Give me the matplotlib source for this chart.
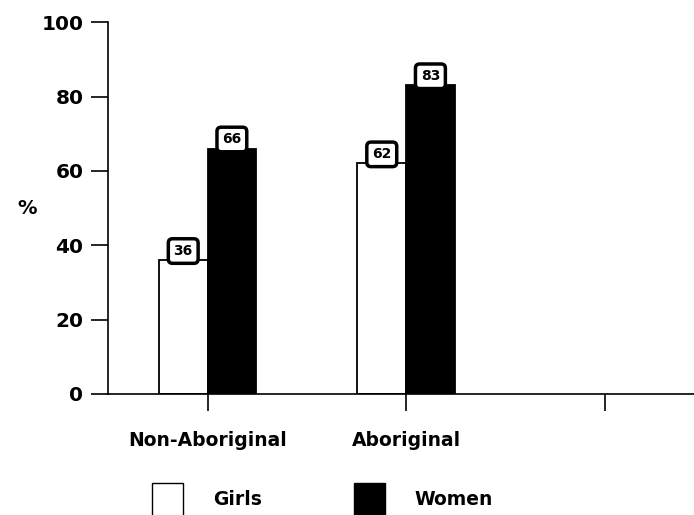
import matplotlib.pyplot as plt
import numpy as np
from matplotlib.patches import Patch

plt.rcParams['font.family'] = ['DejaVu Sans']
plt.rcParams['font.weight'] = 'bold'

groups = ['Non-Aboriginal', 'Aboriginal', '']
girls = [36, 62]
women = [66, 83]

fig = plt.figure(figsize=(6.94, 5.15), dpi=100)
ax = fig.add_axes([0.156, 0.235, 0.844, 0.722])

x = np.arange(len(girls))
w = 0.245
b1 = ax.bar(x - w / 2, girls, w, color='white', edgecolor='black', linewidth=1.3)
b2 = ax.bar(x + w / 2, women, w, color='black', edgecolor='black', linewidth=1.3)

# value tags sitting on top of each bar
for bars in (b1, b2):
    for r in bars:
        v = r.get_height()
        ax.annotate(f'{v:.0f}', (r.get_x() + r.get_width() / 2, v),
                    xytext=(0, 1.5), textcoords='offset points',
                    ha='center', va='bottom', fontsize=10, fontweight='bold',
                    bbox=dict(boxstyle='round,pad=0.38,rounding_size=0.3',
                              fc='white', ec='black', lw=2.5))

ax.set_xlim(-0.5, 2.45)
ax.set_ylim(0, 100)
ax.set_xticks(np.arange(len(groups)))
ax.set_xticklabels(groups, fontsize=13.5, fontweight='bold')
ax.set_yticks(np.arange(0, 101, 20))
ax.tick_params(axis='y', labelsize=14.5, length=12, width=1.2, pad=6)
ax.tick_params(axis='x', length=12, width=1.2, pad=15)
for lab in ax.get_yticklabels():
    lab.set_fontweight('bold')
ax.spines['top'].set_visible(False)
ax.spines['right'].set_visible(False)
ax.spines['left'].set_linewidth(1.2)
ax.spines['bottom'].set_linewidth(1.2)
ax.set_ylabel('%', rotation=0, fontsize=14, fontweight='bold', labelpad=10, va='center')

handles = [Patch(facecolor='white', edgecolor='black', lw=1),
           Patch(facecolor='black', edgecolor='black', lw=1)]
fig.legend(handles, ['Girls', 'Women'], loc='lower left', bbox_to_anchor=(0.195, -0.035),
           ncol=2, frameon=False, fontsize=13.5, handlelength=1.65, handleheight=2.35,
           handletextpad=1.6, columnspacing=4.9)

fig.savefig('out.png', dpi=100)
